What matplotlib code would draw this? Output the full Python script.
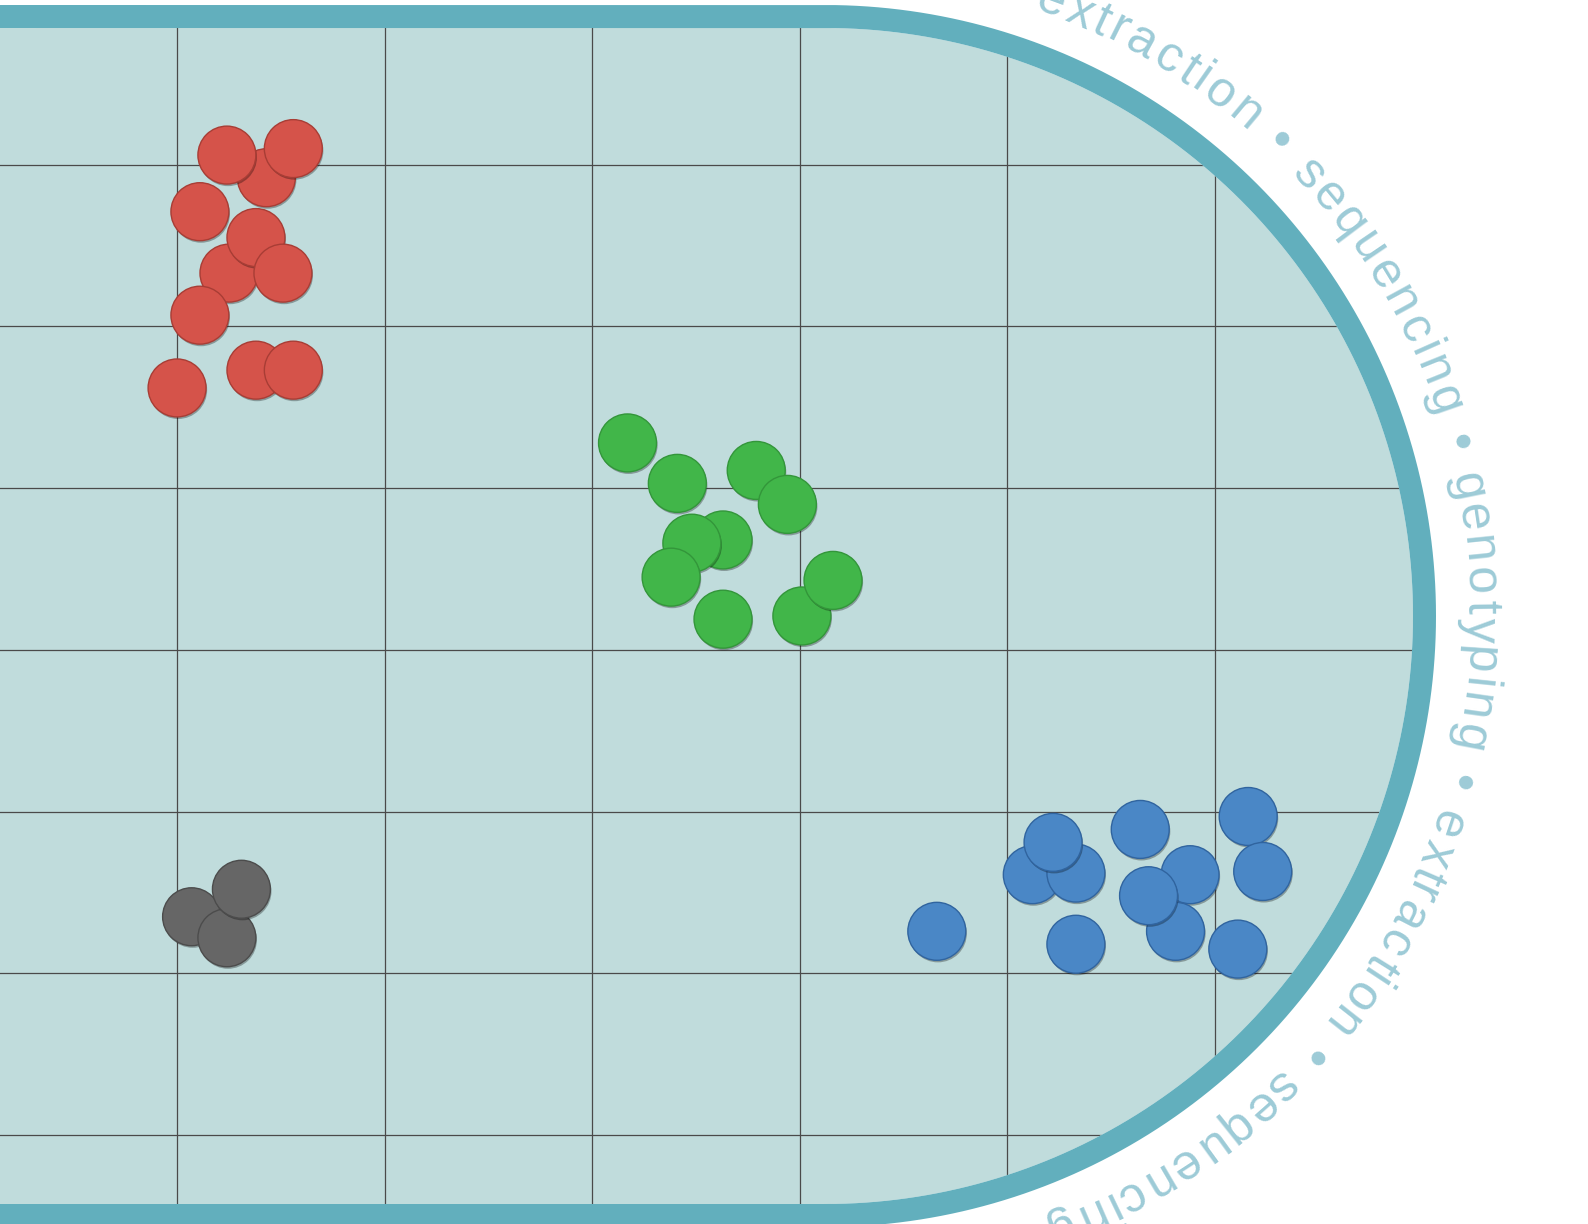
import numpy as np
import matplotlib
matplotlib.use('Agg')
import matplotlib.pyplot as plt
import matplotlib.patheffects as pe
from matplotlib.patches import Polygon

# grid positions (data units)
grid_x = [1, 2, 3, 4, 5, 6]
grid_y = [0, 1, 2, 3, 4, 5, 6]

# clusters (drawing order = stacking order)
red_x = [1.43, 1.24, 1.56, 1.11, 1.25, 1.38, 1.51, 1.11, 1.00, 1.38, 1.56]
red_y = [5.92, 6.06, 6.10, 5.71, 5.33, 5.55, 5.33, 5.07, 4.62, 4.73, 4.73]

green_x = [3.17, 3.41, 3.79, 3.94, 3.63, 3.48, 3.38, 3.63, 4.01, 4.16]
green_y = [4.28, 4.03, 4.11, 3.90, 3.68, 3.66, 3.45, 3.19, 3.21, 3.43]

blue_x = [4.66, 5.12, 5.33, 5.22, 5.64, 6.16, 5.88, 6.23, 5.81, 5.68, 5.33, 6.11]
blue_y = [1.26, 1.61, 1.62, 1.81, 1.89, 1.97, 1.61, 1.63, 1.26, 1.48, 1.18, 1.15]

gray_x = [1.07, 1.24, 1.31]
gray_y = [1.35, 1.22, 1.52]

ring_words = ['extraction', 'sequencing', 'genotyping', 'extraction', 'sequencing']

# Liberation Sans advance widths (em)
char_w = {'a': 0.556, 'c': 0.5, 'e': 0.556, 'g': 0.556, 'i': 0.222, 'n': 0.556,
          'o': 0.556, 'p': 0.556, 'q': 0.556, 'r': 0.333, 's': 0.5, 't': 0.278,
          'u': 0.556, 'x': 0.5, 'y': 0.5, ' ': 0.278, '•': 0.35}

W, H = 1588, 1224
fig = plt.figure(figsize=(W / 100, H / 100), dpi=100)
fig.patch.set_facecolor('white')

teal = '#62afbd'
fill = '#c0dcdc'
txt_col = '#9dcbd7'

# background shape (pixel units, y up)
bg = fig.add_axes([0, 0, 1, 1])
bg.set_xlim(0, W)
bg.set_ylim(0, H)
bg.axis('off')
cx, cy = 825, 608
t = np.radians(np.linspace(90, -90, 361))
r_in = 588
xs = np.concatenate([[-10], cx + r_in * np.cos(t), [-10]])
ys = np.concatenate([[cy + r_in], cy + r_in * np.sin(t), [cy - r_in]])
inner = Polygon(np.column_stack([xs, ys]), closed=True, fc=fill, ec='none')
bg.add_patch(inner)

# data axes
ax = fig.add_axes([0, 0, 1, 1])
ax.set_xlim(0.147, 7.797)
ax.set_ylim(-0.550, 7.019)
ax.axis('off')
vl = ax.vlines(grid_x, -1, 8, colors='#4a4a4a', lw=0.9)
hl = ax.hlines(grid_y, 0, 8, colors='#4a4a4a', lw=0.9)
vl.set_clip_path(inner)
hl.set_clip_path(inner)

shadow = [pe.withSimplePatchShadow(offset=(0.8, -1.5), shadow_rgbFace='black', alpha=0.3)]
size = 1740
ax.scatter(red_x, red_y, s=size, c='#d5534a', edgecolors='#a83d35', linewidths=1.0,
           path_effects=shadow, zorder=3)
ax.scatter(green_x, green_y, s=size, c='#41b649', edgecolors='#33963a', linewidths=1.0,
           path_effects=shadow, zorder=3)
ax.scatter(blue_x, blue_y, s=size, c='#4a87c6', edgecolors='#30649f', linewidths=1.0,
           path_effects=shadow, zorder=3)
ax.scatter(gray_x, gray_y, s=size, c='#666666', edgecolors='#4c4c4c', linewidths=1.0,
           path_effects=shadow, zorder=3)

# band and circular text on top
top = fig.add_axes([0, 0, 1, 1])
top.set_xlim(0, W)
top.set_ylim(0, H)
top.axis('off')
r_mid = 599.5
bx = np.concatenate([[-20], cx + r_mid * np.cos(t), [-20]])
by = np.concatenate([[cy + r_mid], cy + r_mid * np.sin(t), [cy - r_mid]])
top.plot(bx, by, color=teal, lw=23 * 0.72, solid_capstyle='butt', solid_joinstyle='round')

ring = ' • '.join(ring_words)
em = 50.0
track = 3.5
r_base = 642
adv = np.array([char_w[ch] * em + track for ch in ring])
s = np.cumsum(adv) - adv / 2
ref = s[ring.index('•')]
theta = np.radians(46.2) - (s - ref) / r_base
for ch, th in zip(ring, theta):
    if ch == ' ':
        continue
    top.text(cx + r_base * np.cos(th), cy + r_base * np.sin(th), ch,
             rotation=np.degrees(th) - 90, rotation_mode='anchor',
             ha='center', va='baseline', fontsize=36,
             family='Liberation Sans', color=txt_col)

fig.savefig('out.png', dpi=100)
